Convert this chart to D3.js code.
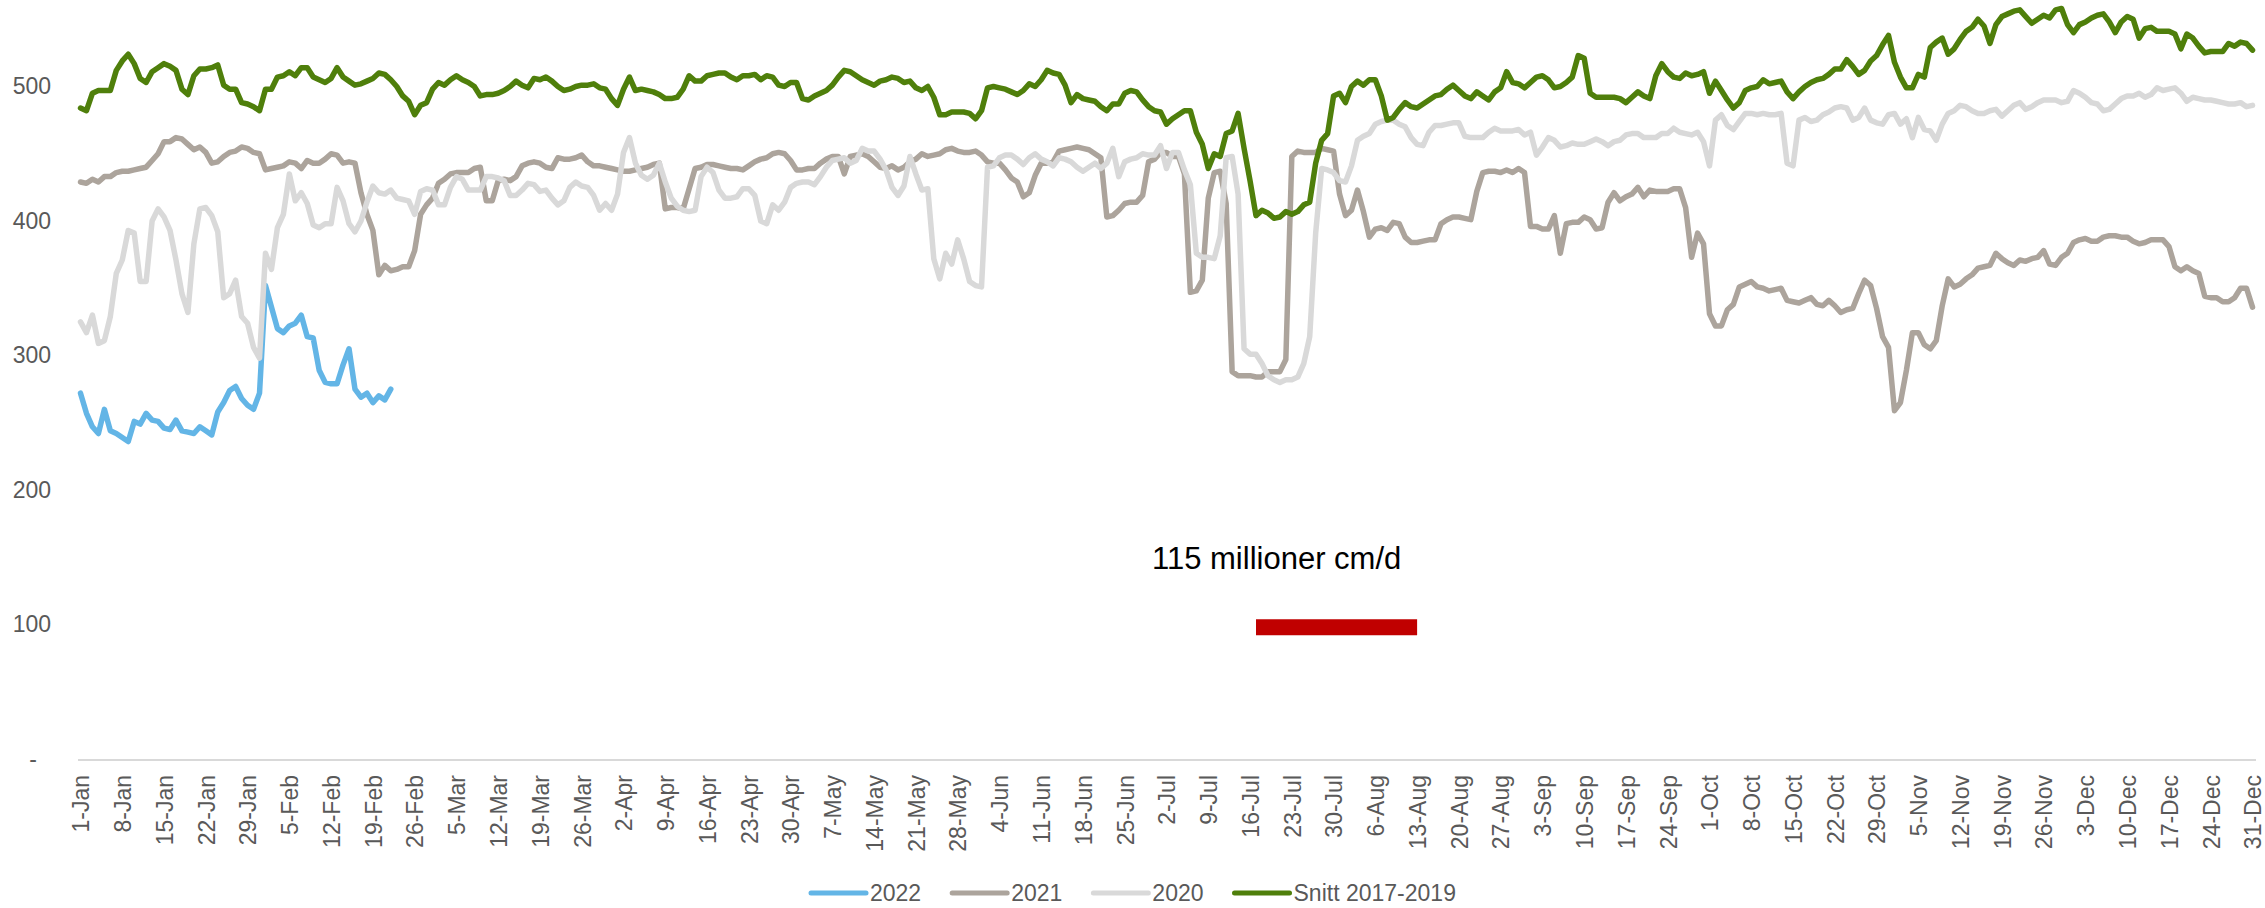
<!DOCTYPE html>
<html>
<head>
<meta charset="utf-8">
<script src="https://cdn.jsdelivr.net/npm/d3@7"></script>
<style>
  body { margin: 0; background: #fff; }
  text { font-family: "Liberation Sans", Arial, sans-serif; }
</style>
</head>
<body>
<div id="chart"></div>
<script>

// daily values, 1-Jan .. 31-Dec (millioner cm/d)
var snitt = [484,482,495,497,497,497,512,519,524,517,506,503,511,514,517,515,512,498,494,508,513,513,514,516,501,498,498,488,487,485,482,498,498,507,508,511,508,514,514,507,505,503,506,514,507,504,
  501,502,504,506,510,509,505,500,493,489,479,486,488,498,503,501,505,508,505,503,500,493,494,494,495,497,500,504,501,499,506,505,507,504,500,497,498,500,501,501,502,499,498,491,486,
  498,507,497,498,497,496,494,491,491,492,498,508,504,504,508,509,510,510,507,505,508,508,509,505,508,507,501,500,503,503,491,490,493,495,497,501,507,512,511,508,505,503,501,504,505,
  507,506,503,504,499,497,500,492,479,479,481,481,481,480,476,482,499,500,499,498,496,494,497,502,500,505,512,510,509,501,488,494,491,490,489,485,482,487,487,495,497,496,490,485,482,
  481,472,476,479,482,482,466,457,439,450,448,465,467,480,454,430,404,408,406,402,403,407,405,407,412,414,443,460,465,493,495,488,500,504,501,505,505,493,475,477,483,488,485,484,
  487,490,493,494,498,501,497,493,491,496,493,490,496,499,511,503,502,499,503,507,508,505,499,500,503,507,523,521,495,492,492,492,492,491,488,492,496,493,491,508,517,511,507,506,510,
  508,509,511,495,504,497,490,484,488,497,499,500,505,502,503,504,496,491,496,500,503,505,506,509,513,513,520,515,509,512,519,523,531,538,518,507,499,499,509,507,529,533,536,524,528,
  535,541,544,550,545,532,546,552,554,556,557,552,547,550,553,551,557,558,546,540,546,548,551,553,554,548,540,548,552,550,536,543,544,541,541,541,539,528,539,536,530,525,526,526,526,532,530,533,532,527]

var y2021 = [429,428,431,429,433,433,436,437,437,438,439,440,445,450,459,459,462,461,457,453,455,451,443,444,448,451,452,455,454,451,450,438,439,440,441,444,443,439,445,443,443,446,450,449,443,444,
  443,421,405,393,360,367,363,364,366,366,378,405,412,417,428,431,435,436,436,436,439,440,415,415,430,431,430,433,441,443,444,443,440,439,447,446,446,447,449,444,441,441,440,439,438,
  437,437,438,439,440,442,443,409,410,410,409,424,439,440,442,442,441,440,439,439,438,441,444,446,447,450,451,450,445,438,438,439,439,443,446,448,448,435,448,449,450,448,444,440,439,
  441,438,440,444,446,450,448,449,450,453,454,452,451,451,452,449,444,443,443,438,432,429,418,421,434,443,443,444,452,453,454,455,454,453,450,447,403,404,408,413,414,414,419,444,446,
  451,451,448,448,435,347,348,356,417,436,437,413,288,285,285,285,284,284,288,288,288,297,448,452,451,451,451,454,453,452,420,404,408,423,407,388,394,395,393,399,398,388,384,384,
  385,386,386,398,401,403,403,402,401,422,436,437,437,436,438,436,439,436,396,396,394,394,404,376,398,399,399,403,401,394,395,414,421,415,418,420,425,418,423,422,422,422,424,424,410,
  373,391,383,331,322,322,334,338,351,353,355,351,350,348,349,350,341,340,339,341,343,338,337,341,337,332,334,335,346,356,352,335,314,306,259,265,289,317,317,308,305,311,337,357,351,
  353,357,360,365,366,367,376,372,369,367,371,370,372,373,378,368,367,373,376,384,386,387,385,385,388,389,389,388,388,385,383,384,386,386,386,381,366,363,366,363,361,344,343,343,340,340,343,350,350,336]

var y2020 = [325,317,330,309,311,329,361,371,393,391,355,355,400,409,403,393,371,346,332,383,409,410,404,392,343,346,356,329,324,306,298,376,364,395,405,435,415,421,413,397,395,398,398,425,415,398,
  392,400,414,426,421,420,423,417,416,415,405,422,424,423,412,412,425,433,431,423,423,423,433,433,432,430,419,419,423,428,427,422,423,417,412,415,425,429,426,425,419,408,413,408,420,
  451,462,443,434,431,434,443,429,417,411,408,407,408,433,440,436,423,417,417,418,424,424,419,400,398,412,408,414,425,428,429,429,427,433,440,445,446,447,443,445,454,452,452,446,438,
  425,419,426,448,435,423,424,372,357,376,368,386,372,355,352,351,440,441,447,449,449,446,442,447,450,446,444,441,447,446,444,440,437,440,443,439,443,454,433,444,446,447,450,449,449,
  456,439,451,451,438,427,376,373,373,372,389,447,448,420,305,301,301,294,285,282,280,282,282,284,294,314,391,439,438,436,430,429,441,460,463,465,472,474,475,475,472,470,462,457,
  456,466,471,471,472,473,473,463,462,462,462,466,469,467,467,467,468,464,466,449,455,462,460,455,456,458,457,457,459,461,459,456,459,460,464,465,465,462,462,462,465,465,469,466,465,
  464,466,459,441,475,479,471,468,474,480,480,479,480,479,479,480,443,441,475,477,474,475,479,481,484,485,484,475,477,484,475,473,472,479,480,472,476,462,477,468,467,460,472,480,482,
  486,485,482,480,480,482,483,478,482,486,488,483,485,488,490,490,490,488,489,497,495,492,488,487,482,483,487,491,493,493,495,492,494,499,497,498,499,495,489,492,491,490,490,489,488,487,487,488,485,486]

var y2022 = [272,257,247,242,260,244,242,239,236,251,249,257,252,251,246,245,252,244,243,242,247,244,241,258,265,274,277,268,263,260,
  272,352,336,320,317,322,324,330,314,313,289,280,279,279,293,305,275,269,272,265,270,267,275]

var seriesNames = ["2022", "2021", "2020", "Snitt 2017-2019"]
var seriesColors = ["#63B5E6", "#ACA49C", "#D9D9D9", "#4F7F0B"]

var yTicks = [0, 100, 200, 300, 400, 500]

// red bar for the annotation
var barFrom = "17-Jul", barTo = "13-Aug", barValue = 98
var barLabel = "115 millioner cm/d"

var width = 2265,
    height = 908

var svg = d3.select("#chart")
  .append("svg")
    .attr("width", width)
    .attr("height", height)
    .style("background", "#fff")

// one date per day, a non leap year so 365 points
var days = d3.timeDay.range(new Date(2021, 0, 1), new Date(2022, 0, 1))
var parseDay = function(s) { return d3.timeParse("%d-%b-%Y")(s + "-2021") }

var x = d3.scaleTime()
  .domain([days[0], days[days.length - 1]])
  .range([80.5, 2252.5])

var y = d3.scaleLinear()
  .domain([0, 500])
  .range([759, 86.5])

// x axis line
svg.append("line")
  .attr("x1", 78).attr("x2", 2256)
  .attr("y1", 760).attr("y2", 760)
  .attr("stroke", "#D9D9D9")
  .attr("stroke-width", 2)

var weekly = days.filter(function(d, i) { return i % 7 == 0 })

var xAxis = svg.append("g")
  .attr("transform", "translate(0,760)")
  .call(d3.axisBottom(x)
    .tickValues(weekly)
    .tickSize(0)
    .tickFormat(d3.timeFormat("%-d-%b")))

xAxis.select(".domain").remove()
xAxis.selectAll("text")
  .attr("transform", "rotate(-90)")
  .attr("x", -15)
  .attr("y", 0)
  .attr("dy", "0.36em")
  .style("text-anchor", "end")
  .style("font-size", "23px")
  .style("font-family", "'Liberation Sans', Arial, sans-serif")
  .attr("fill", "#595959")

// y axis, only labels
var yAxis = svg.append("g")
  .attr("transform", "translate(80,0)")
  .call(d3.axisLeft(y)
    .tickValues(yTicks)
    .tickSize(0)
    .tickPadding(29)
    .tickFormat(function(d) { return d == 0 ? "-" : d }))

yAxis.select(".domain").remove()
yAxis.selectAll("text")
  .style("font-size", "23px")
  .style("font-family", "'Liberation Sans', Arial, sans-serif")
  .attr("fill", "#595959")
  .filter(function(d) { return d == 0 })
    .attr("x", -43)

// the lines, first series at the bottom
var line = d3.line()
  .x(function(d, i) { return x(days[i]) })
  .y(function(d) { return y(d) })

var allSeries = [y2022, y2021, y2020, snitt]

svg.selectAll("path.serie")
  .data(allSeries)
  .enter()
  .append("path")
    .attr("class", "serie")
    .attr("d", line)
    .attr("fill", "none")
    .attr("stroke", function(d, i) { return seriesColors[i] })
    .attr("stroke-width", 5.5)
    .attr("stroke-linejoin", "round")
    .attr("stroke-linecap", "round")

// red bar + text
svg.append("line")
  .attr("x1", x(parseDay(barFrom)))
  .attr("x2", x(parseDay(barTo)))
  .attr("y1", y(barValue))
  .attr("y2", y(barValue))
  .attr("stroke", "#C00000")
  .attr("stroke-width", 16)

svg.append("text")
  .attr("x", 1152)
  .attr("y", 569)
  .text(barLabel)
  .style("font-size", "31px")
  .attr("fill", "#000")

// legend
var legend = svg.append("g")
var lx = 811
seriesNames.forEach(function(name, i) {
  legend.append("line")
    .attr("x1", lx).attr("x2", lx + 55)
    .attr("y1", 893).attr("y2", 893)
    .attr("stroke", seriesColors[i])
    .attr("stroke-width", 5)
    .attr("stroke-linecap", "round")
  var t = legend.append("text")
    .attr("x", lx + 59)
    .attr("y", 893)
    .attr("dy", "0.35em")
    .text(name)
    .style("font-size", "23px")
    .attr("fill", "#595959")
  lx = lx + 59 + t.node().getComputedTextLength() + 31
})

</script>
</body>
</html>
